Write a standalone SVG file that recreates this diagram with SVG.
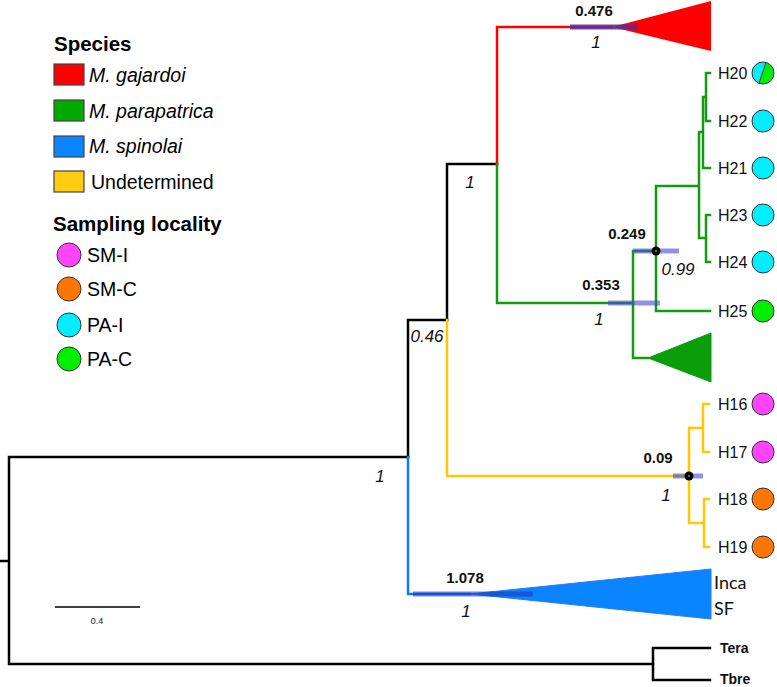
<svg xmlns="http://www.w3.org/2000/svg" width="777" height="687" viewBox="0 0 777 687">
<style>
.br{fill:none;stroke-width:2.5;stroke-linecap:square;stroke-linejoin:miter}
.k{stroke:#000}.r{stroke:#ff0000}.g{stroke:#139a13}.b{stroke:#0a7cff}.y{stroke:#ffc800}
.hpd{fill:#4a4ad0;fill-opacity:0.6}
.tip{font-family:"Liberation Sans",Arial,sans-serif;font-size:16px;fill:#111}
.ht{font-family:"Liberation Sans",Arial,sans-serif;font-size:15px;font-weight:bold;fill:#111;text-anchor:middle}
.pp{font-family:"Liberation Sans",Arial,sans-serif;font-size:17px;font-style:italic;fill:#111;text-anchor:middle}
.leg{font-family:"Liberation Sans",Arial,sans-serif;font-size:19.5px;fill:#000}
.lh{font-family:"Liberation Sans",Arial,sans-serif;font-size:20.5px;font-weight:bold;fill:#000}
.box{stroke:#444;stroke-width:1.2}
.dot{stroke:#333;stroke-width:1}
</style>

<g id="legend">
<text class="lh" x="54" y="51">Species</text>
<rect class="box" x="54" y="64" width="30" height="21" fill="#ff0000"/>
<text class="leg" x="89" y="82" font-style="italic">M. gajardoi</text>
<rect class="box" x="54" y="100" width="30" height="21" fill="#00aa00"/>
<text class="leg" x="89" y="118" font-style="italic">M. parapatrica</text>
<rect class="box" x="54" y="136" width="30" height="21" fill="#0a84ff"/>
<text class="leg" x="89" y="153" font-style="italic">M. spinolai</text>
<rect class="box" x="54" y="171" width="30" height="21" fill="#ffcc11"/>
<text class="leg" x="91" y="189">Undetermined</text>
<text class="lh" x="53" y="231">Sampling locality</text>
<circle class="dot" cx="69" cy="255" r="12" fill="#ff44ff"/>
<text class="leg" x="87" y="262">SM-I</text>
<circle class="dot" cx="69" cy="289" r="12" fill="#ff7700"/>
<text class="leg" x="87" y="296">SM-C</text>
<circle class="dot" cx="69" cy="325" r="12" fill="#00eeff"/>
<text class="leg" x="87" y="332">PA-I</text>
<circle class="dot" cx="69" cy="359" r="12" fill="#00ee00"/>
<text class="leg" x="87" y="366">PA-C</text>
</g>

<g id="connectors">
<path class="br k" d="M0,561 H9 M408,457 H9 V664 H653"/>
<path class="br k" d="M653,648 V680 M653,648 H710 M653,680 H710"/>
<path class="br k" d="M447,320 H408 V457"/>
<path class="br b" d="M408,457 V594 H470"/>
<path class="br k" d="M497,164 H447 V320"/>
<path class="br y" d="M447,320 V476 H689"/>
<path class="br r" d="M497,164 V27 H612"/>
<path class="br g" d="M497,164 V303 H633"/>
<path class="br g" d="M633,251 V358 H648 M633,251 H656 M656,186 V311 H710 M656,186 H699 M699,132 V238 M699,132 H703 M703,97 V168 H710 M703,97 H706 M706,73 V121 M706,73 H710 M706,121 H710 M699,238 H706 M706,215 V262 M706,215 H710 M706,262 H710"/>
<path class="br y" d="M689,428 V523 M689,428 H703 M703,404 V452 M703,404 H709 M703,452 H709 M689,523 H704 M704,499 V547 M704,499 H709 M704,547 H709"/>
</g>

<g id="clade-gajardoi">
<polygon points="612,27 711,1 711,51" fill="#ff0000"/>
<rect x="570" y="24.5" width="68" height="5" style="fill:#5a2a9a;fill-opacity:0.85"/>
<text class="ht" x="594" y="16">0.476</text>
<text class="pp" x="596" y="48">1</text>
</g>

<g id="clade-parapatrica">
<polygon points="648,358 711,333 711,382" fill="#0a9e0a" stroke="#139a13" stroke-width="1"/>
<rect class="hpd" x="608" y="300.5" width="52" height="5"/>
<text class="ht" x="601" y="290">0.353</text>
<text class="pp" x="599" y="325">1</text>
<rect class="hpd" x="633" y="248.5" width="46" height="5"/>
<circle cx="656" cy="251" r="4.5" fill="#000"/>
<circle cx="656" cy="251" r="1" fill="#777"/>
<text class="ht" x="627" y="239">0.249</text>
<text class="pp" x="678" y="275">0.99</text>
</g>

<g id="clade-undetermined">
<rect class="hpd" x="673" y="473.5" width="30" height="5"/>
<circle cx="689" cy="476" r="4.5" fill="#000"/>
<circle cx="689" cy="476" r="1" fill="#777"/>
<text class="ht" x="658" y="463">0.09</text>
<text class="pp" x="666" y="501">1</text>
</g>

<g id="clade-spinolai">
<polygon points="470,594 711,569 711,619" fill="#0a84ff" stroke="#2a7aff" stroke-width="1"/>
<rect x="413" y="591.5" width="120" height="5" style="fill:#1a3ac0;fill-opacity:0.6"/>
<text class="ht" x="465" y="583">1.078</text>
<text class="pp" x="466" y="617">1</text>
<text x="714" y="589" font-family="Lato,'Open Sans',sans-serif" font-size="18" fill="#111">Inca</text>
<text x="714" y="615" font-family="Lato,'Open Sans',sans-serif" font-size="18" fill="#111">SF</text>
</g>

<g id="support-labels">
<text class="pp" x="470" y="188">1</text>
<text class="pp" x="427" y="342">0.46</text>
<text class="pp" x="380" y="482">1</text>
</g>

<g id="tips">
<text class="tip" x="718" y="79">H20</text>
<circle cx="763" cy="73" r="11" fill="#00eeff"/>
<path d="M763,73 L766,62.4 A11,11 0 1 1 759,83.3 Z" fill="#00ee00"/>
<circle cx="763" cy="73" r="11" fill="none" stroke="#333" stroke-width="1"/>
<line x1="766" y1="62.4" x2="759" y2="83.3" stroke="#333" stroke-width="1"/>
<text class="tip" x="718" y="127">H22</text>
<circle class="dot" cx="763" cy="121" r="11" fill="#00eeff"/>
<text class="tip" x="718" y="174">H21</text>
<circle class="dot" cx="763" cy="168" r="11" fill="#00eeff"/>
<text class="tip" x="718" y="221">H23</text>
<circle class="dot" cx="763" cy="215" r="11" fill="#00eeff"/>
<text class="tip" x="718" y="268">H24</text>
<circle class="dot" cx="763" cy="262" r="11" fill="#00eeff"/>
<text class="tip" x="718" y="317">H25</text>
<circle class="dot" cx="763" cy="311" r="11" fill="#00ee00"/>
<text class="tip" x="718" y="410">H16</text>
<circle class="dot" cx="763" cy="404" r="11" fill="#ff44ff"/>
<text class="tip" x="718" y="458">H17</text>
<circle class="dot" cx="763" cy="452" r="11" fill="#ff44ff"/>
<text class="tip" x="718" y="505">H18</text>
<circle class="dot" cx="763" cy="499" r="11" fill="#ff7700"/>
<text class="tip" x="718" y="553">H19</text>
<circle class="dot" cx="763" cy="547" r="11" fill="#ff7700"/>
<text x="720" y="653" font-family="'Liberation Sans',Arial,sans-serif" font-size="14" font-weight="bold" fill="#111">Tera</text>
<text x="720" y="684" font-family="'Liberation Sans',Arial,sans-serif" font-size="14" font-weight="bold" fill="#111">Tbre</text>
</g>

<g id="scale">
<line x1="55" y1="607" x2="140" y2="607" stroke="#000" stroke-width="1.5"/>
<text x="97" y="624" font-family="'Liberation Sans',Arial,sans-serif" font-size="9" fill="#222" text-anchor="middle">0.4</text>
</g>
</svg>
